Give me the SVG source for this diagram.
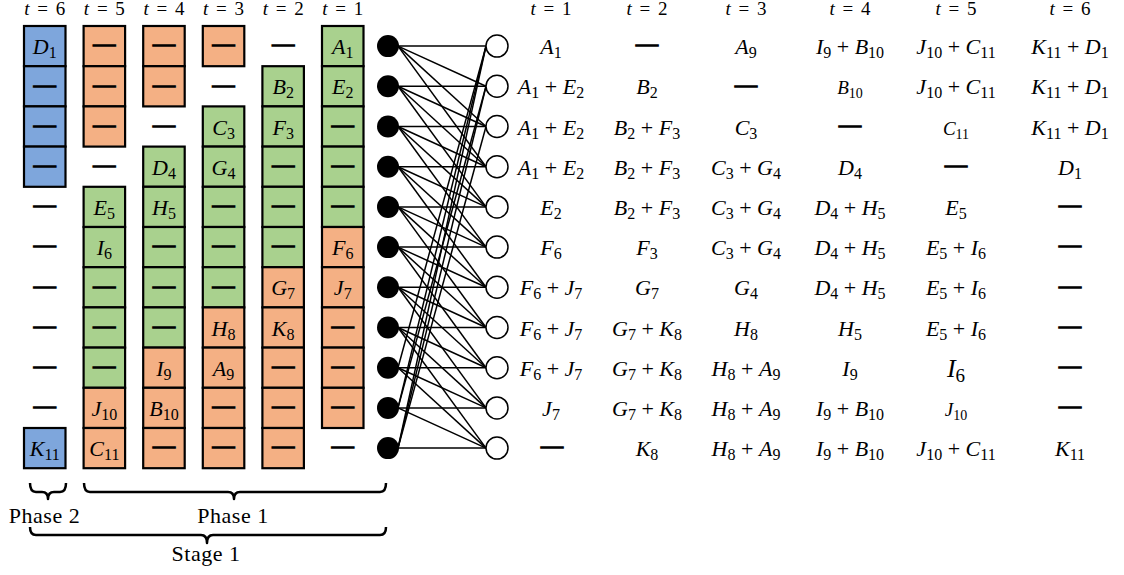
<svg xmlns="http://www.w3.org/2000/svg" width="1124" height="575" viewBox="0 0 1124 575" font-family="'Liberation Serif', 'DejaVu Serif', 'Noto Serif', Tinos, FreeSerif, 'Nimbus Roman', 'Times New Roman', Times, serif">
<style>
text{font-family:"Liberation Serif","DejaVu Serif","Noto Serif",Tinos,FreeSerif,"Nimbus Roman","Times New Roman",Times,serif}
.m{font-size:22px;text-anchor:middle;fill:#000}
.v{font-style:italic}
.s{font-size:16px}
.d{font-size:22px;text-anchor:middle;fill:#000;stroke:#000;stroke-width:1.4}
.h{font-size:19px;text-anchor:middle;word-spacing:3px;fill:#000}
.lb{font-size:22px;text-anchor:middle;letter-spacing:0.5px;fill:#000}
.c line{stroke:#000;stroke-width:1.5}
.box{stroke:#000;stroke-width:2.2}
.bl{fill:#7EA6DC}.or{fill:#F4B084}.gr{fill:#A9D18E}
.br{fill:none;stroke:#000;stroke-width:2.5;stroke-linejoin:round}
.ln{fill:#000}
.rn{fill:#fff;stroke:#000;stroke-width:1.5}
</style>
<rect width="1124" height="575" fill="#fff"/>
<g id="headers-left">
<text class="h" x="44.75" y="15"><tspan class="v">t</tspan> = 6</text>
<text class="h" x="104.35" y="15"><tspan class="v">t</tspan> = 5</text>
<text class="h" x="163.95" y="15"><tspan class="v">t</tspan> = 4</text>
<text class="h" x="223.55" y="15"><tspan class="v">t</tspan> = 3</text>
<text class="h" x="283.15" y="15"><tspan class="v">t</tspan> = 2</text>
<text class="h" x="342.75" y="15"><tspan class="v">t</tspan> = 1</text>
</g>
<g id="col-t6">
<rect class="box bl" x="24" y="26" width="41.5" height="40.2"/>
<rect class="box bl" x="24" y="66.2" width="41.5" height="40.2"/>
<rect class="box bl" x="24" y="106.4" width="41.5" height="40.2"/>
<rect class="box bl" x="24" y="146.6" width="41.5" height="40.2"/>
<rect class="box bl" x="24" y="428" width="41.5" height="40.2"/>
<text class="m" x="44.75" y="54.1"><tspan class="v">D</tspan><tspan class="s" dy="4">1</tspan></text>
<text class="d" x="44.75" y="91.6">—</text>
<text class="d" x="44.75" y="131.8">—</text>
<text class="d" x="44.75" y="172">—</text>
<text class="d" x="44.75" y="212.2">—</text>
<text class="d" x="44.75" y="252.4">—</text>
<text class="d" x="44.75" y="292.6">—</text>
<text class="d" x="44.75" y="332.8">—</text>
<text class="d" x="44.75" y="373">—</text>
<text class="d" x="44.75" y="413.2">—</text>
<text class="m" x="44.75" y="456.1"><tspan class="v">K</tspan><tspan class="s" dy="4">11</tspan></text>
</g>
<g id="col-t5">
<rect class="box or" x="83.6" y="26" width="41.5" height="40.2"/>
<rect class="box or" x="83.6" y="66.2" width="41.5" height="40.2"/>
<rect class="box or" x="83.6" y="106.4" width="41.5" height="40.2"/>
<rect class="box gr" x="83.6" y="186.8" width="41.5" height="40.2"/>
<rect class="box gr" x="83.6" y="227" width="41.5" height="40.2"/>
<rect class="box gr" x="83.6" y="267.2" width="41.5" height="40.2"/>
<rect class="box gr" x="83.6" y="307.4" width="41.5" height="40.2"/>
<rect class="box gr" x="83.6" y="347.6" width="41.5" height="40.2"/>
<rect class="box or" x="83.6" y="387.8" width="41.5" height="40.2"/>
<rect class="box or" x="83.6" y="428" width="41.5" height="40.2"/>
<text class="d" x="104.35" y="51.4">—</text>
<text class="d" x="104.35" y="91.6">—</text>
<text class="d" x="104.35" y="131.8">—</text>
<text class="d" x="104.35" y="172">—</text>
<text class="m" x="104.35" y="214.9"><tspan class="v">E</tspan><tspan class="s" dy="4">5</tspan></text>
<text class="m" x="104.35" y="255.1"><tspan class="v">I</tspan><tspan class="s" dy="4">6</tspan></text>
<text class="d" x="104.35" y="292.6">—</text>
<text class="d" x="104.35" y="332.8">—</text>
<text class="d" x="104.35" y="373">—</text>
<text class="m" x="104.35" y="415.9"><tspan class="v">J</tspan><tspan class="s" dy="4">10</tspan></text>
<text class="m" x="104.35" y="456.1"><tspan class="v">C</tspan><tspan class="s" dy="4">11</tspan></text>
</g>
<g id="col-t4">
<rect class="box or" x="143.2" y="26" width="41.5" height="40.2"/>
<rect class="box or" x="143.2" y="66.2" width="41.5" height="40.2"/>
<rect class="box gr" x="143.2" y="146.6" width="41.5" height="40.2"/>
<rect class="box gr" x="143.2" y="186.8" width="41.5" height="40.2"/>
<rect class="box gr" x="143.2" y="227" width="41.5" height="40.2"/>
<rect class="box gr" x="143.2" y="267.2" width="41.5" height="40.2"/>
<rect class="box gr" x="143.2" y="307.4" width="41.5" height="40.2"/>
<rect class="box or" x="143.2" y="347.6" width="41.5" height="40.2"/>
<rect class="box or" x="143.2" y="387.8" width="41.5" height="40.2"/>
<rect class="box or" x="143.2" y="428" width="41.5" height="40.2"/>
<text class="d" x="163.95" y="51.4">—</text>
<text class="d" x="163.95" y="91.6">—</text>
<text class="d" x="163.95" y="131.8">—</text>
<text class="m" x="163.95" y="174.7"><tspan class="v">D</tspan><tspan class="s" dy="4">4</tspan></text>
<text class="m" x="163.95" y="214.9"><tspan class="v">H</tspan><tspan class="s" dy="4">5</tspan></text>
<text class="d" x="163.95" y="252.4">—</text>
<text class="d" x="163.95" y="292.6">—</text>
<text class="d" x="163.95" y="332.8">—</text>
<text class="m" x="163.95" y="375.7"><tspan class="v">I</tspan><tspan class="s" dy="4">9</tspan></text>
<text class="m" x="163.95" y="415.9"><tspan class="v">B</tspan><tspan class="s" dy="4">10</tspan></text>
<text class="d" x="163.95" y="453.4">—</text>
</g>
<g id="col-t3">
<rect class="box or" x="202.8" y="26" width="41.5" height="40.2"/>
<rect class="box gr" x="202.8" y="106.4" width="41.5" height="40.2"/>
<rect class="box gr" x="202.8" y="146.6" width="41.5" height="40.2"/>
<rect class="box gr" x="202.8" y="186.8" width="41.5" height="40.2"/>
<rect class="box gr" x="202.8" y="227" width="41.5" height="40.2"/>
<rect class="box gr" x="202.8" y="267.2" width="41.5" height="40.2"/>
<rect class="box or" x="202.8" y="307.4" width="41.5" height="40.2"/>
<rect class="box or" x="202.8" y="347.6" width="41.5" height="40.2"/>
<rect class="box or" x="202.8" y="387.8" width="41.5" height="40.2"/>
<rect class="box or" x="202.8" y="428" width="41.5" height="40.2"/>
<text class="d" x="223.55" y="51.4">—</text>
<text class="d" x="223.55" y="91.6">—</text>
<text class="m" x="223.55" y="134.5"><tspan class="v">C</tspan><tspan class="s" dy="4">3</tspan></text>
<text class="m" x="223.55" y="174.7"><tspan class="v">G</tspan><tspan class="s" dy="4">4</tspan></text>
<text class="d" x="223.55" y="212.2">—</text>
<text class="d" x="223.55" y="252.4">—</text>
<text class="d" x="223.55" y="292.6">—</text>
<text class="m" x="223.55" y="335.5"><tspan class="v">H</tspan><tspan class="s" dy="4">8</tspan></text>
<text class="m" x="223.55" y="375.7"><tspan class="v">A</tspan><tspan class="s" dy="4">9</tspan></text>
<text class="d" x="223.55" y="413.2">—</text>
<text class="d" x="223.55" y="453.4">—</text>
</g>
<g id="col-t2">
<rect class="box gr" x="262.4" y="66.2" width="41.5" height="40.2"/>
<rect class="box gr" x="262.4" y="106.4" width="41.5" height="40.2"/>
<rect class="box gr" x="262.4" y="146.6" width="41.5" height="40.2"/>
<rect class="box gr" x="262.4" y="186.8" width="41.5" height="40.2"/>
<rect class="box gr" x="262.4" y="227" width="41.5" height="40.2"/>
<rect class="box or" x="262.4" y="267.2" width="41.5" height="40.2"/>
<rect class="box or" x="262.4" y="307.4" width="41.5" height="40.2"/>
<rect class="box or" x="262.4" y="347.6" width="41.5" height="40.2"/>
<rect class="box or" x="262.4" y="387.8" width="41.5" height="40.2"/>
<rect class="box or" x="262.4" y="428" width="41.5" height="40.2"/>
<text class="d" x="283.15" y="51.4">—</text>
<text class="m" x="283.15" y="94.3"><tspan class="v">B</tspan><tspan class="s" dy="4">2</tspan></text>
<text class="m" x="283.15" y="134.5"><tspan class="v">F</tspan><tspan class="s" dy="4">3</tspan></text>
<text class="d" x="283.15" y="172">—</text>
<text class="d" x="283.15" y="212.2">—</text>
<text class="d" x="283.15" y="252.4">—</text>
<text class="m" x="283.15" y="295.3"><tspan class="v">G</tspan><tspan class="s" dy="4">7</tspan></text>
<text class="m" x="283.15" y="335.5"><tspan class="v">K</tspan><tspan class="s" dy="4">8</tspan></text>
<text class="d" x="283.15" y="373">—</text>
<text class="d" x="283.15" y="413.2">—</text>
<text class="d" x="283.15" y="453.4">—</text>
</g>
<g id="col-t1">
<rect class="box gr" x="322" y="26" width="41.5" height="40.2"/>
<rect class="box gr" x="322" y="66.2" width="41.5" height="40.2"/>
<rect class="box gr" x="322" y="106.4" width="41.5" height="40.2"/>
<rect class="box gr" x="322" y="146.6" width="41.5" height="40.2"/>
<rect class="box gr" x="322" y="186.8" width="41.5" height="40.2"/>
<rect class="box or" x="322" y="227" width="41.5" height="40.2"/>
<rect class="box or" x="322" y="267.2" width="41.5" height="40.2"/>
<rect class="box or" x="322" y="307.4" width="41.5" height="40.2"/>
<rect class="box or" x="322" y="347.6" width="41.5" height="40.2"/>
<rect class="box or" x="322" y="387.8" width="41.5" height="40.2"/>
<text class="m" x="342.75" y="54.1"><tspan class="v">A</tspan><tspan class="s" dy="4">1</tspan></text>
<text class="m" x="342.75" y="94.3"><tspan class="v">E</tspan><tspan class="s" dy="4">2</tspan></text>
<text class="d" x="342.75" y="131.8">—</text>
<text class="d" x="342.75" y="172">—</text>
<text class="d" x="342.75" y="212.2">—</text>
<text class="m" x="342.75" y="255.1"><tspan class="v">F</tspan><tspan class="s" dy="4">6</tspan></text>
<text class="m" x="342.75" y="295.3"><tspan class="v">J</tspan><tspan class="s" dy="4">7</tspan></text>
<text class="d" x="342.75" y="332.8">—</text>
<text class="d" x="342.75" y="373">—</text>
<text class="d" x="342.75" y="413.2">—</text>
<text class="d" x="342.75" y="453.4">—</text>
</g>
<g id="connectors" class="c">
<line x1="398" y1="46.1" x2="486" y2="46.1"/><line x1="398" y1="46.1" x2="486" y2="86.3"/><line x1="398" y1="46.1" x2="486" y2="126.5"/><line x1="398" y1="46.1" x2="486" y2="166.7"/>
<line x1="398" y1="86.3" x2="486" y2="86.3"/><line x1="398" y1="86.3" x2="486" y2="126.5"/><line x1="398" y1="86.3" x2="486" y2="166.7"/><line x1="398" y1="86.3" x2="486" y2="206.9"/>
<line x1="398" y1="126.5" x2="486" y2="126.5"/><line x1="398" y1="126.5" x2="486" y2="166.7"/><line x1="398" y1="126.5" x2="486" y2="206.9"/><line x1="398" y1="126.5" x2="486" y2="247.1"/>
<line x1="398" y1="166.7" x2="486" y2="166.7"/><line x1="398" y1="166.7" x2="486" y2="206.9"/><line x1="398" y1="166.7" x2="486" y2="247.1"/><line x1="398" y1="166.7" x2="486" y2="287.3"/>
<line x1="398" y1="206.9" x2="486" y2="206.9"/><line x1="398" y1="206.9" x2="486" y2="247.1"/><line x1="398" y1="206.9" x2="486" y2="287.3"/><line x1="398" y1="206.9" x2="486" y2="327.5"/>
<line x1="398" y1="247.1" x2="486" y2="247.1"/><line x1="398" y1="247.1" x2="486" y2="287.3"/><line x1="398" y1="247.1" x2="486" y2="327.5"/><line x1="398" y1="247.1" x2="486" y2="367.7"/>
<line x1="398" y1="287.3" x2="486" y2="287.3"/><line x1="398" y1="287.3" x2="486" y2="327.5"/><line x1="398" y1="287.3" x2="486" y2="367.7"/><line x1="398" y1="287.3" x2="486" y2="407.9"/>
<line x1="398" y1="327.5" x2="486" y2="327.5"/><line x1="398" y1="327.5" x2="486" y2="367.7"/><line x1="398" y1="327.5" x2="486" y2="407.9"/><line x1="398" y1="327.5" x2="486" y2="448.1"/>
<line x1="398" y1="367.7" x2="486" y2="367.7"/><line x1="398" y1="367.7" x2="486" y2="407.9"/><line x1="398" y1="367.7" x2="486" y2="448.1"/><line x1="398" y1="367.7" x2="486" y2="46.1"/>
<line x1="398" y1="407.9" x2="486" y2="407.9"/><line x1="398" y1="407.9" x2="486" y2="448.1"/><line x1="398" y1="407.9" x2="486" y2="46.1"/><line x1="398" y1="407.9" x2="486" y2="86.3"/>
<line x1="398" y1="448.1" x2="486" y2="448.1"/><line x1="398" y1="448.1" x2="486" y2="46.1"/><line x1="398" y1="448.1" x2="486" y2="86.3"/><line x1="398" y1="448.1" x2="486" y2="126.5"/>
</g>
<g id="left-nodes">
<circle id="L1" class="ln" cx="388" cy="46.1" r="11"/>
<circle id="L2" class="ln" cx="388" cy="86.3" r="11"/>
<circle id="L3" class="ln" cx="388" cy="126.5" r="11"/>
<circle id="L4" class="ln" cx="388" cy="166.7" r="11"/>
<circle id="L5" class="ln" cx="388" cy="206.9" r="11"/>
<circle id="L6" class="ln" cx="388" cy="247.1" r="11"/>
<circle id="L7" class="ln" cx="388" cy="287.3" r="11"/>
<circle id="L8" class="ln" cx="388" cy="327.5" r="11"/>
<circle id="L9" class="ln" cx="388" cy="367.7" r="11"/>
<circle id="L10" class="ln" cx="388" cy="407.9" r="11"/>
<circle id="L11" class="ln" cx="388" cy="448.1" r="11"/>
</g>
<g id="right-nodes">
<circle id="R1" class="rn" cx="497" cy="46.1" r="11"/>
<circle id="R2" class="rn" cx="497" cy="86.3" r="11"/>
<circle id="R3" class="rn" cx="497" cy="126.5" r="11"/>
<circle id="R4" class="rn" cx="497" cy="166.7" r="11"/>
<circle id="R5" class="rn" cx="497" cy="206.9" r="11"/>
<circle id="R6" class="rn" cx="497" cy="247.1" r="11"/>
<circle id="R7" class="rn" cx="497" cy="287.3" r="11"/>
<circle id="R8" class="rn" cx="497" cy="327.5" r="11"/>
<circle id="R9" class="rn" cx="497" cy="367.7" r="11"/>
<circle id="R10" class="rn" cx="497" cy="407.9" r="11"/>
<circle id="R11" class="rn" cx="497" cy="448.1" r="11"/>
</g>
<g id="headers-right">
<text class="h" x="551" y="15"><tspan class="v">t</tspan> = 1</text>
<text class="h" x="647" y="15"><tspan class="v">t</tspan> = 2</text>
<text class="h" x="746" y="15"><tspan class="v">t</tspan> = 3</text>
<text class="h" x="850" y="15"><tspan class="v">t</tspan> = 4</text>
<text class="h" x="956" y="15"><tspan class="v">t</tspan> = 5</text>
<text class="h" x="1070" y="15"><tspan class="v">t</tspan> = 6</text>
</g>
<g id="table">
<text class="m" x="551" y="54.1"><tspan class="v">A</tspan><tspan class="s" dy="4">1</tspan></text>
<text class="d" x="647" y="51.4">—</text>
<text class="m" x="746" y="54.1"><tspan class="v">A</tspan><tspan class="s" dy="4">9</tspan></text>
<text class="m" x="850" y="54.1"><tspan class="v">I</tspan><tspan class="s" dy="4">9</tspan><tspan dy="-4"> + </tspan><tspan class="v">B</tspan><tspan class="s" dy="4">10</tspan></text>
<text class="m" x="956" y="54.1"><tspan class="v">J</tspan><tspan class="s" dy="4">10</tspan><tspan dy="-4"> + </tspan><tspan class="v">C</tspan><tspan class="s" dy="4">11</tspan></text>
<text class="m" x="1070" y="54.1"><tspan class="v">K</tspan><tspan class="s" dy="4">11</tspan><tspan dy="-4"> + </tspan><tspan class="v">D</tspan><tspan class="s" dy="4">1</tspan></text>
<text class="m" x="551" y="94.3"><tspan class="v">A</tspan><tspan class="s" dy="4">1</tspan><tspan dy="-4"> + </tspan><tspan class="v">E</tspan><tspan class="s" dy="4">2</tspan></text>
<text class="m" x="647" y="94.3"><tspan class="v">B</tspan><tspan class="s" dy="4">2</tspan></text>
<text class="d" x="746" y="91.6">—</text>
<text class="m" x="850" y="94.3" style="font-size:19px"><tspan class="v">B</tspan><tspan dy="4" style="font-size:14px">10</tspan></text>
<text class="m" x="956" y="94.3"><tspan class="v">J</tspan><tspan class="s" dy="4">10</tspan><tspan dy="-4"> + </tspan><tspan class="v">C</tspan><tspan class="s" dy="4">11</tspan></text>
<text class="m" x="1070" y="94.3"><tspan class="v">K</tspan><tspan class="s" dy="4">11</tspan><tspan dy="-4"> + </tspan><tspan class="v">D</tspan><tspan class="s" dy="4">1</tspan></text>
<text class="m" x="551" y="134.5"><tspan class="v">A</tspan><tspan class="s" dy="4">1</tspan><tspan dy="-4"> + </tspan><tspan class="v">E</tspan><tspan class="s" dy="4">2</tspan></text>
<text class="m" x="647" y="134.5"><tspan class="v">B</tspan><tspan class="s" dy="4">2</tspan><tspan dy="-4"> + </tspan><tspan class="v">F</tspan><tspan class="s" dy="4">3</tspan></text>
<text class="m" x="746" y="134.5"><tspan class="v">C</tspan><tspan class="s" dy="4">3</tspan></text>
<text class="d" x="850" y="131.8">—</text>
<text class="m" x="956" y="134.5" style="font-size:19px"><tspan class="v">C</tspan><tspan dy="4" style="font-size:14px">11</tspan></text>
<text class="m" x="1070" y="134.5"><tspan class="v">K</tspan><tspan class="s" dy="4">11</tspan><tspan dy="-4"> + </tspan><tspan class="v">D</tspan><tspan class="s" dy="4">1</tspan></text>
<text class="m" x="551" y="174.7"><tspan class="v">A</tspan><tspan class="s" dy="4">1</tspan><tspan dy="-4"> + </tspan><tspan class="v">E</tspan><tspan class="s" dy="4">2</tspan></text>
<text class="m" x="647" y="174.7"><tspan class="v">B</tspan><tspan class="s" dy="4">2</tspan><tspan dy="-4"> + </tspan><tspan class="v">F</tspan><tspan class="s" dy="4">3</tspan></text>
<text class="m" x="746" y="174.7"><tspan class="v">C</tspan><tspan class="s" dy="4">3</tspan><tspan dy="-4"> + </tspan><tspan class="v">G</tspan><tspan class="s" dy="4">4</tspan></text>
<text class="m" x="850" y="174.7"><tspan class="v">D</tspan><tspan class="s" dy="4">4</tspan></text>
<text class="d" x="956" y="172">—</text>
<text class="m" x="1070" y="174.7"><tspan class="v">D</tspan><tspan class="s" dy="4">1</tspan></text>
<text class="m" x="551" y="214.9"><tspan class="v">E</tspan><tspan class="s" dy="4">2</tspan></text>
<text class="m" x="647" y="214.9"><tspan class="v">B</tspan><tspan class="s" dy="4">2</tspan><tspan dy="-4"> + </tspan><tspan class="v">F</tspan><tspan class="s" dy="4">3</tspan></text>
<text class="m" x="746" y="214.9"><tspan class="v">C</tspan><tspan class="s" dy="4">3</tspan><tspan dy="-4"> + </tspan><tspan class="v">G</tspan><tspan class="s" dy="4">4</tspan></text>
<text class="m" x="850" y="214.9"><tspan class="v">D</tspan><tspan class="s" dy="4">4</tspan><tspan dy="-4"> + </tspan><tspan class="v">H</tspan><tspan class="s" dy="4">5</tspan></text>
<text class="m" x="956" y="214.9"><tspan class="v">E</tspan><tspan class="s" dy="4">5</tspan></text>
<text class="d" x="1070" y="212.2">—</text>
<text class="m" x="551" y="255.1"><tspan class="v">F</tspan><tspan class="s" dy="4">6</tspan></text>
<text class="m" x="647" y="255.1"><tspan class="v">F</tspan><tspan class="s" dy="4">3</tspan></text>
<text class="m" x="746" y="255.1"><tspan class="v">C</tspan><tspan class="s" dy="4">3</tspan><tspan dy="-4"> + </tspan><tspan class="v">G</tspan><tspan class="s" dy="4">4</tspan></text>
<text class="m" x="850" y="255.1"><tspan class="v">D</tspan><tspan class="s" dy="4">4</tspan><tspan dy="-4"> + </tspan><tspan class="v">H</tspan><tspan class="s" dy="4">5</tspan></text>
<text class="m" x="956" y="255.1"><tspan class="v">E</tspan><tspan class="s" dy="4">5</tspan><tspan dy="-4"> + </tspan><tspan class="v">I</tspan><tspan class="s" dy="4">6</tspan></text>
<text class="d" x="1070" y="252.4">—</text>
<text class="m" x="551" y="295.3"><tspan class="v">F</tspan><tspan class="s" dy="4">6</tspan><tspan dy="-4"> + </tspan><tspan class="v">J</tspan><tspan class="s" dy="4">7</tspan></text>
<text class="m" x="647" y="295.3"><tspan class="v">G</tspan><tspan class="s" dy="4">7</tspan></text>
<text class="m" x="746" y="295.3"><tspan class="v">G</tspan><tspan class="s" dy="4">4</tspan></text>
<text class="m" x="850" y="295.3"><tspan class="v">D</tspan><tspan class="s" dy="4">4</tspan><tspan dy="-4"> + </tspan><tspan class="v">H</tspan><tspan class="s" dy="4">5</tspan></text>
<text class="m" x="956" y="295.3"><tspan class="v">E</tspan><tspan class="s" dy="4">5</tspan><tspan dy="-4"> + </tspan><tspan class="v">I</tspan><tspan class="s" dy="4">6</tspan></text>
<text class="d" x="1070" y="292.6">—</text>
<text class="m" x="551" y="335.5"><tspan class="v">F</tspan><tspan class="s" dy="4">6</tspan><tspan dy="-4"> + </tspan><tspan class="v">J</tspan><tspan class="s" dy="4">7</tspan></text>
<text class="m" x="647" y="335.5"><tspan class="v">G</tspan><tspan class="s" dy="4">7</tspan><tspan dy="-4"> + </tspan><tspan class="v">K</tspan><tspan class="s" dy="4">8</tspan></text>
<text class="m" x="746" y="335.5"><tspan class="v">H</tspan><tspan class="s" dy="4">8</tspan></text>
<text class="m" x="850" y="335.5"><tspan class="v">H</tspan><tspan class="s" dy="4">5</tspan></text>
<text class="m" x="956" y="335.5"><tspan class="v">E</tspan><tspan class="s" dy="4">5</tspan><tspan dy="-4"> + </tspan><tspan class="v">I</tspan><tspan class="s" dy="4">6</tspan></text>
<text class="d" x="1070" y="332.8">—</text>
<text class="m" x="551" y="375.7"><tspan class="v">F</tspan><tspan class="s" dy="4">6</tspan><tspan dy="-4"> + </tspan><tspan class="v">J</tspan><tspan class="s" dy="4">7</tspan></text>
<text class="m" x="647" y="375.7"><tspan class="v">G</tspan><tspan class="s" dy="4">7</tspan><tspan dy="-4"> + </tspan><tspan class="v">K</tspan><tspan class="s" dy="4">8</tspan></text>
<text class="m" x="746" y="375.7"><tspan class="v">H</tspan><tspan class="s" dy="4">8</tspan><tspan dy="-4"> + </tspan><tspan class="v">A</tspan><tspan class="s" dy="4">9</tspan></text>
<text class="m" x="850" y="375.7"><tspan class="v">I</tspan><tspan class="s" dy="4">9</tspan></text>
<text class="m" x="956" y="377" style="font-size:26px"><tspan class="v">I</tspan><tspan dy="5" style="font-size:19px">6</tspan></text>
<text class="d" x="1070" y="373">—</text>
<text class="m" x="551" y="415.9"><tspan class="v">J</tspan><tspan class="s" dy="4">7</tspan></text>
<text class="m" x="647" y="415.9"><tspan class="v">G</tspan><tspan class="s" dy="4">7</tspan><tspan dy="-4"> + </tspan><tspan class="v">K</tspan><tspan class="s" dy="4">8</tspan></text>
<text class="m" x="746" y="415.9"><tspan class="v">H</tspan><tspan class="s" dy="4">8</tspan><tspan dy="-4"> + </tspan><tspan class="v">A</tspan><tspan class="s" dy="4">9</tspan></text>
<text class="m" x="850" y="415.9"><tspan class="v">I</tspan><tspan class="s" dy="4">9</tspan><tspan dy="-4"> + </tspan><tspan class="v">B</tspan><tspan class="s" dy="4">10</tspan></text>
<text class="m" x="956" y="415.9" style="font-size:19px"><tspan class="v">J</tspan><tspan dy="4" style="font-size:14px">10</tspan></text>
<text class="d" x="1070" y="413.2">—</text>
<text class="d" x="552" y="453.4">—</text>
<text class="m" x="647" y="456.1"><tspan class="v">K</tspan><tspan class="s" dy="4">8</tspan></text>
<text class="m" x="746" y="456.1"><tspan class="v">H</tspan><tspan class="s" dy="4">8</tspan><tspan dy="-4"> + </tspan><tspan class="v">A</tspan><tspan class="s" dy="4">9</tspan></text>
<text class="m" x="850" y="456.1"><tspan class="v">I</tspan><tspan class="s" dy="4">9</tspan><tspan dy="-4"> + </tspan><tspan class="v">B</tspan><tspan class="s" dy="4">10</tspan></text>
<text class="m" x="956" y="456.1"><tspan class="v">J</tspan><tspan class="s" dy="4">10</tspan><tspan dy="-4"> + </tspan><tspan class="v">C</tspan><tspan class="s" dy="4">11</tspan></text>
<text class="m" x="1070" y="456.1"><tspan class="v">K</tspan><tspan class="s" dy="4">11</tspan></text>
</g>
<g id="braces">
<path class="br" d="M30,483 Q30,492 36,492 L42,492 Q48,492 48,499 Q48,492 54,492 L60,492 Q66,492 66,483"/>
<path class="br" d="M84,483 Q84,492 90,492 L228,492 Q234,492 234,499 Q234,492 240,492 L380,492 Q386,492 386,483"/>
<path class="br" d="M30,527 Q30,535 36,535 L201,535 Q207,535 207,543 Q207,535 213,535 L380,535 Q386,535 386,527"/>
<text class="lb" x="44.5" y="523">Phase 2</text>
<text class="lb" x="233" y="523">Phase 1</text>
<text class="lb" x="206" y="561">Stage 1</text>
</g>
</svg>
